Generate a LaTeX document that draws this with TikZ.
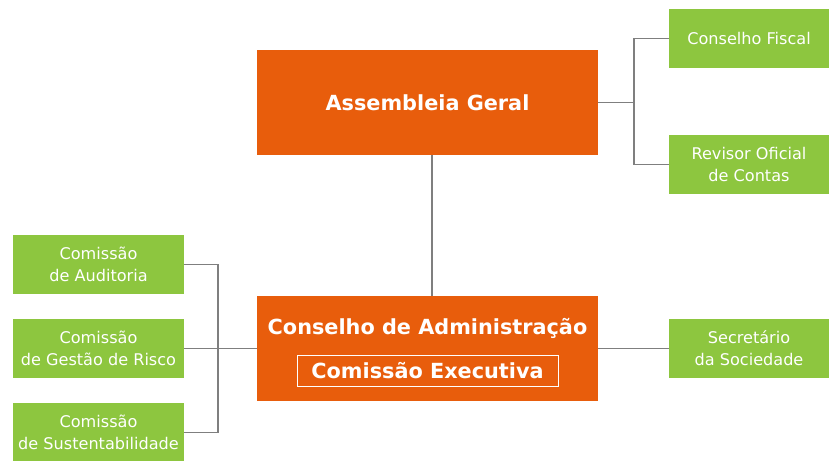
\documentclass[tikz,border=0pt]{standalone}
\usepackage{fontspec}
\setmainfont{DejaVu Sans}
\definecolor{orgbox}{HTML}{E85D0C}
\definecolor{grnbox}{HTML}{8DC63F}
\definecolor{conn}{HTML}{7F7F7F}
\begin{document}
\begin{tikzpicture}[x=1pt,y=-1pt,
  bigfont/.style={font=\bfseries\fontsize{20.8}{24}\selectfont},
  mainbox/.style={fill=orgbox,draw=none,text=white,bigfont,minimum width=341pt,minimum height=105pt,inner sep=0pt,align=center},
  subbox/.style={fill=grnbox,draw=none,text=white,font=\fontsize{16.1}{22}\selectfont,minimum height=59pt,inner sep=0pt,align=center},
  link/.style={draw=conn,line width=1.3pt}]
\useasboundingbox (0,0) rectangle (829,460);
\clip (0,0) rectangle (829,460);
\node[mainbox] (AG) at (427.5,102.5) {Assembleia Geral};
\node[mainbox] (CA) at (427.5,348.5) {};
\node[text=white,bigfont,inner sep=0pt] (CAt) at (427.5,328) {Conselho de Administração};
\node[draw=white,line width=1pt,minimum width=261pt,minimum height=31pt,inner sep=0pt,text=white,bigfont] (CE) at (427.5,371) {Comissão Executiva};
\node[subbox,minimum width=160pt] (CF) at (749,38.5) {Conselho Fiscal};
\node[subbox,minimum width=160pt] (ROC) at (749,164.5) {Revisor Oficial\\de Contas};
\node[subbox,minimum width=160pt] (SS) at (749,348.5) {Secretário\\da Sociedade};
\node[subbox,minimum width=171pt] (CAud) at (98.5,264.5) {Comissão\\de Auditoria};
\node[subbox,minimum width=171pt] (CGR) at (98.5,348.5) {Comissão\\de Gestão de Risco};
\node[subbox,minimum width=171pt] (CSus) at (98.5,432.5) {Comissão\\de Sustentabilidade};
\coordinate (rj) at (634,102.5);
\coordinate (lj) at (218,348.5);
\draw[link] (432,155) -- (432,296);
\draw[link] (AG.east) -- (rj);
\draw[link] (rj) |- (CF.west);
\draw[link] (rj) |- (ROC.west);
\draw[link] (CA.east) -- (SS.west);
\draw[link] (CA.west) -- (CGR.east);
\draw[link] (lj) |- (CAud.east);
\draw[link] (lj) |- (CSus.east);
\end{tikzpicture}
\end{document}
